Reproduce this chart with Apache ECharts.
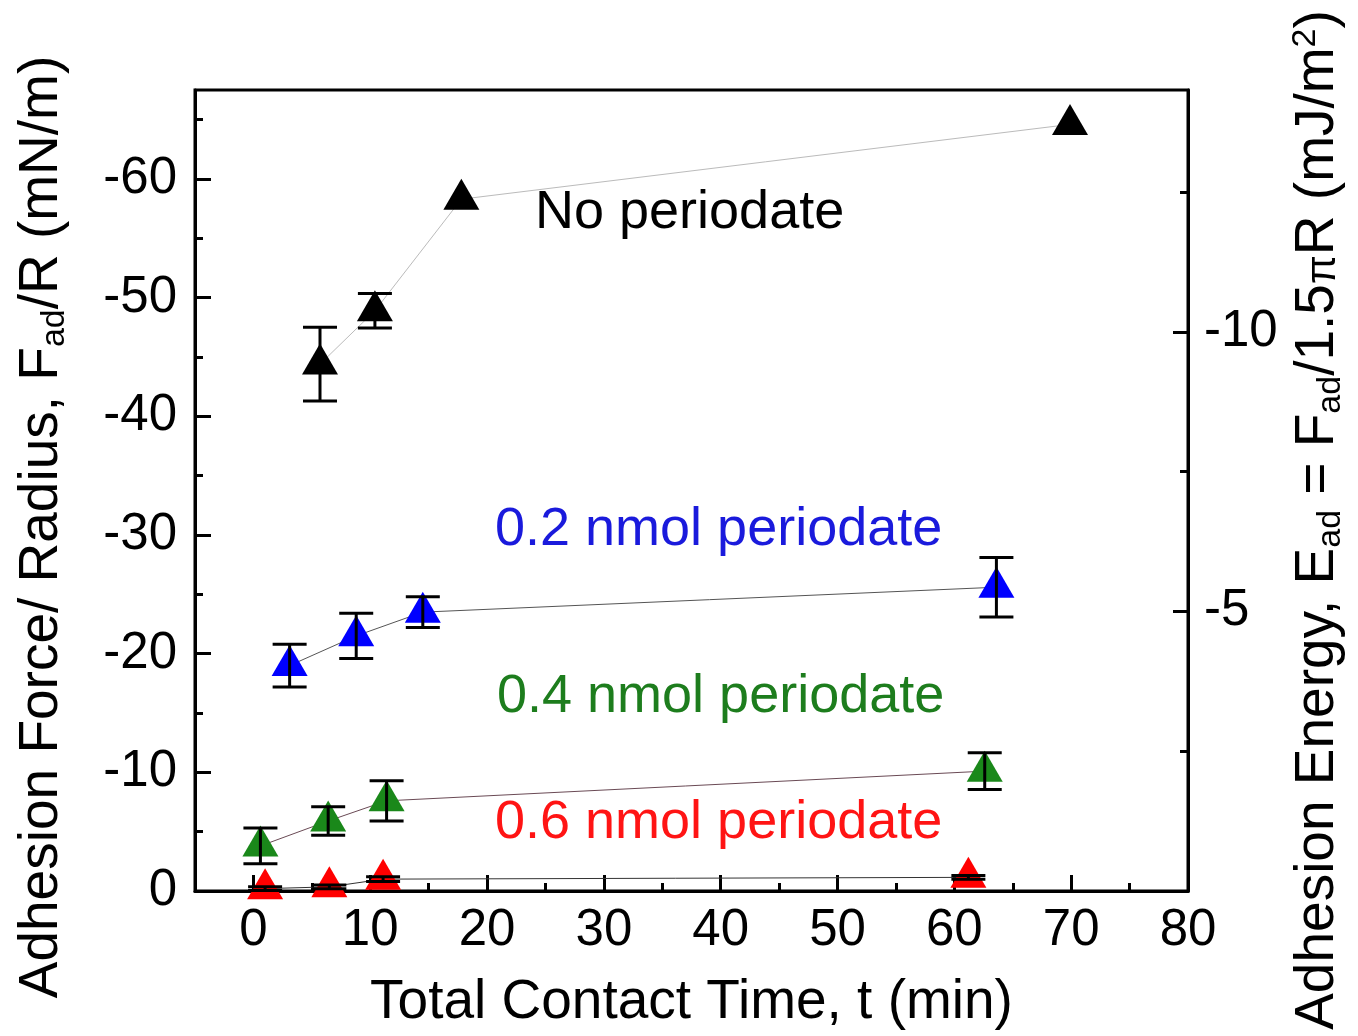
<!DOCTYPE html>
<html>
<head>
<meta charset="utf-8">
<script src="https://cdn.jsdelivr.net/npm/echarts@6/dist/echarts.min.js"></script>
<style>
html,body{margin:0;padding:0;background:#fff}
#chart{width:1358px;height:1036px}
</style>
</head>
<body>
<div id="chart"></div>
<script>
// total contact time (min) / adhesion force per radius (mN/m) / error (+-)
var noPerTime = [5.7, 10.4, 17.8, 69.9];
var noPerForce = [-44.4, -48.9, -58.3, -64.6];
var noPerErr = [3.1, 1.45, null, null];

var p02Time = [3.1, 8.8, 14.5, 63.6];
var p02Force = [-19.0, -21.5, -23.5, -25.6];
var p02Err = [1.8, 1.9, 1.3, 2.5];

var p04Time = [0.6, 6.4, 11.4, 62.6];
var p04Force = [-3.8, -5.9, -7.6, -10.1];
var p04Err = [1.5, 1.2, 1.7, 1.55];

var p06Time = [1.0, 6.5, 11.1, 61.2];
var p06Force = [-0.2, -0.35, -1.0, -1.15];
var p06Err = [0.15, 0.15, 0.2, 0.15];

// axis ticks
var xMajor = [0, 10, 20, 30, 40, 50, 60, 70, 80];
var xMinor = [5, 15, 25, 35, 45, 55, 65, 75];
var yMajor = [0, -10, -20, -30, -40, -50, -60];
var yMinor = [-5, -15, -25, -35, -45, -55, -65];
var eMajor = [-5, -10];
var eMinor = [-2.5, -7.5, -12.5];

var FONT = '"Liberation Sans", Arial, sans-serif';
var xMin = -5, xMax = 80;
var yMin = -67.5, yMax = 0;
var k = 1.5 * Math.PI; // E = F / 1.5piR

var myChart = echarts.init(document.getElementById('chart'));

function pts(t, f) {
  var d = [];
  for (var i = 0; i < t.length; i++) d.push([t[i], f[i]]);
  return d;
}

function lineSeries(t, f, color, lineColor) {
  return {
    type: 'line',
    data: pts(t, f),
    symbol: 'triangle',
    symbolSize: [36, 31],
    symbolOffset: [0, -5],
    itemStyle: { color: color },
    lineStyle: { color: lineColor, width: 1 },
    z: 3,
    clip: false
  };
}

function errSeries(t, f, e) {
  var d = [];
  for (var i = 0; i < t.length; i++) {
    if (e[i]) d.push([t[i], f[i], e[i]]);
  }
  return {
    type: 'custom',
    data: d,
    z: 5,
    clip: false,
    encode: { x: 0, y: 1 },
    renderItem: function (params, api) {
      var x = api.value(0), y = api.value(1), er = api.value(2);
      var a = api.coord([x, y - er]);
      var b = api.coord([x, y + er]);
      var w = 17;
      var st = { stroke: '#000', lineWidth: 3 };
      return {
        type: 'group',
        children: [
          { type: 'line', shape: { x1: a[0], y1: a[1], x2: b[0], y2: b[1] }, style: st },
          { type: 'line', shape: { x1: a[0] - w, y1: a[1], x2: a[0] + w, y2: a[1] }, style: st },
          { type: 'line', shape: { x1: b[0] - w, y1: b[1], x2: b[0] + w, y2: b[1] }, style: st }
        ]
      };
    }
  };
}

var tickLabel = { fontFamily: FONT, fontSize: 51, color: '#000' };

var option = {
  animation: false,
  backgroundColor: '#fff',
  grid: {
    left: 195, right: 170, top: 90, bottom: 145,
    show: true, borderColor: '#000', borderWidth: 3,
    containLabel: false, outerBoundsMode: 'none'
  },
  xAxis: [
    {
      type: 'value', min: xMin, max: xMax, position: 'bottom',
      axisLine: { onZero: false, lineStyle: { color: '#000', width: 3 } },
      axisTick: { inside: true, length: 16, lineStyle: { width: 3, color: '#000' }, customValues: xMajor },
      axisLabel: Object.assign({ margin: 14, customValues: xMajor }, tickLabel),
      splitLine: { show: false },
      name: 'Total Contact Time, t (min)',
      nameLocation: 'middle',
      nameGap: 84,
      nameTextStyle: { fontFamily: FONT, fontSize: 55, color: '#000' }
    },
    {
      type: 'value', min: xMin, max: xMax, position: 'bottom',
      axisLine: { show: false, onZero: false },
      axisTick: { inside: true, length: 8, lineStyle: { width: 3, color: '#000' }, customValues: xMinor },
      axisLabel: { show: false },
      splitLine: { show: false }
    }
  ],
  yAxis: [
    {
      type: 'value', min: yMin, max: yMax, inverse: true, position: 'left',
      axisLine: { show: true, onZero: false, lineStyle: { color: '#000', width: 3 } },
      axisTick: { show: true, inside: true, length: 16, lineStyle: { width: 3, color: '#000' }, customValues: yMajor },
      axisLabel: Object.assign({ margin: 18, customValues: yMajor }, tickLabel),
      splitLine: { show: false }
    },
    {
      type: 'value', min: yMin, max: yMax, inverse: true, position: 'left',
      axisLine: { show: false, onZero: false },
      axisTick: { show: true, inside: true, length: 8, lineStyle: { width: 3, color: '#000' }, customValues: yMinor },
      axisLabel: { show: false },
      splitLine: { show: false }
    },
    {
      type: 'value', min: yMin / k, max: yMax / k, inverse: true, position: 'right',
      axisLine: { show: true, onZero: false, lineStyle: { color: '#000', width: 3 } },
      axisTick: { show: true, inside: true, length: 15, lineStyle: { width: 3, color: '#000' }, customValues: eMajor },
      axisLabel: Object.assign({ margin: 16, customValues: eMajor }, tickLabel),
      splitLine: { show: false }
    },
    {
      type: 'value', min: yMin / k, max: yMax / k, inverse: true, position: 'right',
      axisLine: { show: false, onZero: false },
      axisTick: { show: true, inside: true, length: 8, lineStyle: { width: 3, color: '#000' }, customValues: eMinor },
      axisLabel: { show: false },
      splitLine: { show: false }
    }
  ],
  graphic: [
    {
      type: 'text', x: 42, y: 527, rotation: Math.PI / 2,
      style: {
        text: 'Adhesion Force/ Radius, F{sub|ad}/R (mN/m)',
        fontFamily: FONT, fontSize: 55, fill: '#000',
        align: 'center', verticalAlign: 'middle',
        rich: {
          sub: { fontFamily: FONT, fontSize: 34, padding: [26, 0, 0, 0], fill: '#000' }
        }
      }
    },
    {
      type: 'text', x: 1318, y: 520, rotation: Math.PI / 2,
      style: {
        text: 'Adhesion Energy, E{sub|ad} = F{sub|ad}/1.5{pi|π}R (mJ/m{sup|2})',
        fontFamily: FONT, fontSize: 55, fill: '#000',
        align: 'center', verticalAlign: 'middle',
        rich: {
          sub: { fontFamily: FONT, fontSize: 34, padding: [26, 0, 0, 0], fill: '#000' },
          sup: { fontFamily: FONT, fontSize: 34, padding: [0, 0, 24, 0], fill: '#000' },
          pi: { fontFamily: FONT, fontSize: 42, padding: [10, 0, 0, 0], fill: '#000' }
        }
      }
    },
    { type: 'text', x: 535, y: 213, style: { text: 'No periodate', fontFamily: FONT, fontSize: 54, fill: '#000', verticalAlign: 'middle' } },
    { type: 'text', x: 495, y: 530, style: { text: '0.2 nmol periodate', fontFamily: FONT, fontSize: 54, fill: '#1a1adc', verticalAlign: 'middle' } },
    { type: 'text', x: 497, y: 697, style: { text: '0.4 nmol periodate', fontFamily: FONT, fontSize: 54, fill: '#1d7d1d', verticalAlign: 'middle' } },
    { type: 'text', x: 495, y: 823, style: { text: '0.6 nmol periodate', fontFamily: FONT, fontSize: 54, fill: '#ff1414', verticalAlign: 'middle' } }
  ],
  series: [
    lineSeries(noPerTime, noPerForce, '#000', '#bbbbbb'),
    lineSeries(p02Time, p02Force, '#0000ff', '#555555'),
    lineSeries(p04Time, p04Force, '#1a881a', '#6a4a55'),
    lineSeries(p06Time, p06Force, '#ff0000', '#333333'),
    errSeries(noPerTime, noPerForce, noPerErr),
    errSeries(p02Time, p02Force, p02Err),
    errSeries(p04Time, p04Force, p04Err),
    errSeries(p06Time, p06Force, p06Err)
  ]
};

myChart.setOption(option);
</script>
</body>
</html>
